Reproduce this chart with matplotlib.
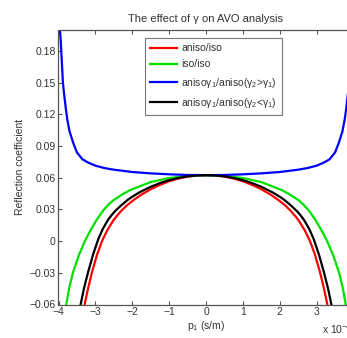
import numpy as np
import matplotlib
matplotlib.use("Agg")
import matplotlib.pyplot as plt

plt.rcParams['font.family'] = ['Liberation Sans', 'DejaVu Sans']
plt.rcParams['mathtext.fontset'] = 'custom'
plt.rcParams['mathtext.rm'] = 'Liberation Sans'
plt.rcParams['mathtext.it'] = 'Liberation Sans'

# half-curve readings (|p1| in 1e-4 s/m); curves are symmetric about p1 = 0
red_p = [0.0, 0.25, 0.5, 0.75, 1.0, 1.25, 1.5, 1.75, 1.95, 2.15, 2.3, 2.42, 2.52, 2.68, 2.81,
         2.95, 3.09, 3.2, 3.29, 3.35]
red_r = [0.0625, 0.0622, 0.0611, 0.0593, 0.0568, 0.0533, 0.0492, 0.0441, 0.0393, 0.0338, 0.0286,
         0.0238, 0.0193, 0.0101, 0.0009, -0.0123, -0.0292, -0.0450, -0.0598, -0.0711]

blk_p = [0.0, 0.25, 0.5, 0.75, 1.0, 1.25, 1.5, 1.8, 2.0, 2.13, 2.3, 2.47, 2.57, 2.66, 2.80, 2.92,
         3.06, 3.2, 3.31, 3.4, 3.45]
blk_r = [0.0625, 0.0622, 0.0614, 0.0599, 0.0578, 0.0550, 0.0515, 0.0463, 0.0421, 0.0389, 0.0339,
         0.0283, 0.0242, 0.0200, 0.0115, 0.0020, -0.0124, -0.0297, -0.0449, -0.0600, -0.0696]

grn_p = [0.0, 0.5, 1.0, 1.5, 2.06, 2.25, 2.51, 2.65, 2.78, 2.96, 3.12, 3.28, 3.45, 3.61, 3.71,
         3.79, 3.84]
grn_r = [0.0625, 0.0618, 0.0598, 0.0560, 0.0483, 0.0447, 0.0388, 0.0344, 0.0294, 0.0205, 0.0110,
         0.0005, -0.0135, -0.0300, -0.0445, -0.0600, -0.0700]

blu_p = [0.0, 0.5, 1.0, 1.5, 2.0, 2.5, 2.75, 3.0, 3.2, 3.35, 3.5, 3.6, 3.7, 3.76, 3.8,
         3.85, 3.88, 3.91, 3.94, 3.97, 4.0]
blu_r = [0.0625, 0.0627, 0.0633, 0.0642, 0.0655, 0.0677, 0.0692, 0.0715, 0.0745, 0.0775, 0.0840,
         0.0930, 0.1040, 0.1150, 0.1250, 0.1400, 0.1500, 0.1700, 0.1900, 0.2050, 0.2300]

labels = ['aniso/iso', 'iso/iso',
          'anisoγ$_1$/aniso(γ$_2$>γ$_1$)',
          'anisoγ$_1$/aniso(γ$_2$<γ$_1$)']
xticks = [-4, -3, -2, -1, 0, 1, 2, 3, 4]
yticks = [-0.06, -0.03, 0, 0.03, 0.06, 0.09, 0.12, 0.15, 0.18]
ytick_labels = ['\u22120.06', '\u22120.03', '0', '0.03', '0.06', '0.09', '0.12', '0.15', '0.18']
xtick_labels = ['\u22124', '\u22123', '\u22122', '\u22121', '0', '1', '2', '3', '4']


def full(p, r):
    p = np.asarray(p); r = np.asarray(r)
    return np.concatenate([-p[::-1], p[1:]]), np.concatenate([r[::-1], r[1:]])


fig = plt.figure(figsize=(3.47, 3.38), dpi=100)
ax = fig.add_axes([58.5 / 347, 1 - 304.5 / 338, 295 / 347, 274.5 / 338])

axc = '#555555'
txtc = '#333333'
for (p, r), c, lab in [((red_p, red_r), '#ff0000', labels[0]),
                       ((grn_p, grn_r), '#00e000', labels[1]),
                       ((blu_p, blu_r), '#0000ff', labels[2]),
                       ((blk_p, blk_r), '#000000', labels[3])]:
    x, y = full(p, r)
    ax.plot(x, y, color=c, lw=1.6, label=lab, solid_joinstyle='round')

ax.set_xlim(-4, 4)
ax.set_ylim(-0.06, 0.2)
ax.set_xticks(xticks)
ax.set_xticklabels(xtick_labels)
ax.set_yticks(yticks)
ax.set_yticklabels(ytick_labels)
ax.tick_params(direction='in', top=True, right=True, length=3, width=0.8,
               labelsize=7.5, colors=axc, labelcolor=txtc, pad=2)
for s in ax.spines.values():
    s.set_color(axc)
    s.set_linewidth(0.9)

ax.set_title('The effect of γ on AVO analysis', fontsize=8, color=txtc, pad=6)
ax.set_ylabel('Reflection coefficient', fontsize=7.5, color=txtc, labelpad=3)
ax.set_xlabel('p$_1$ (s/m)', fontsize=7.5, color=txtc, labelpad=1)
fig.text(322 / 347, 1 - 329 / 338, 'x 10$^{-4}$', fontsize=7.5, color=txtc, va='center')

leg = ax.legend(loc='upper left', bbox_to_anchor=((145 - 58.5) / 295, (304.5 - 38) / 274.5),
                borderaxespad=0, fontsize=7.5, frameon=True, fancybox=False,
                handlelength=2.6, handletextpad=0.4, labelspacing=0.6, borderpad=0.5)
leg.get_frame().set_edgecolor(axc)
leg.get_frame().set_linewidth(0.8)
for t in leg.get_texts():
    t.set_color(txtc)

fig.savefig('out.png', dpi=100)
